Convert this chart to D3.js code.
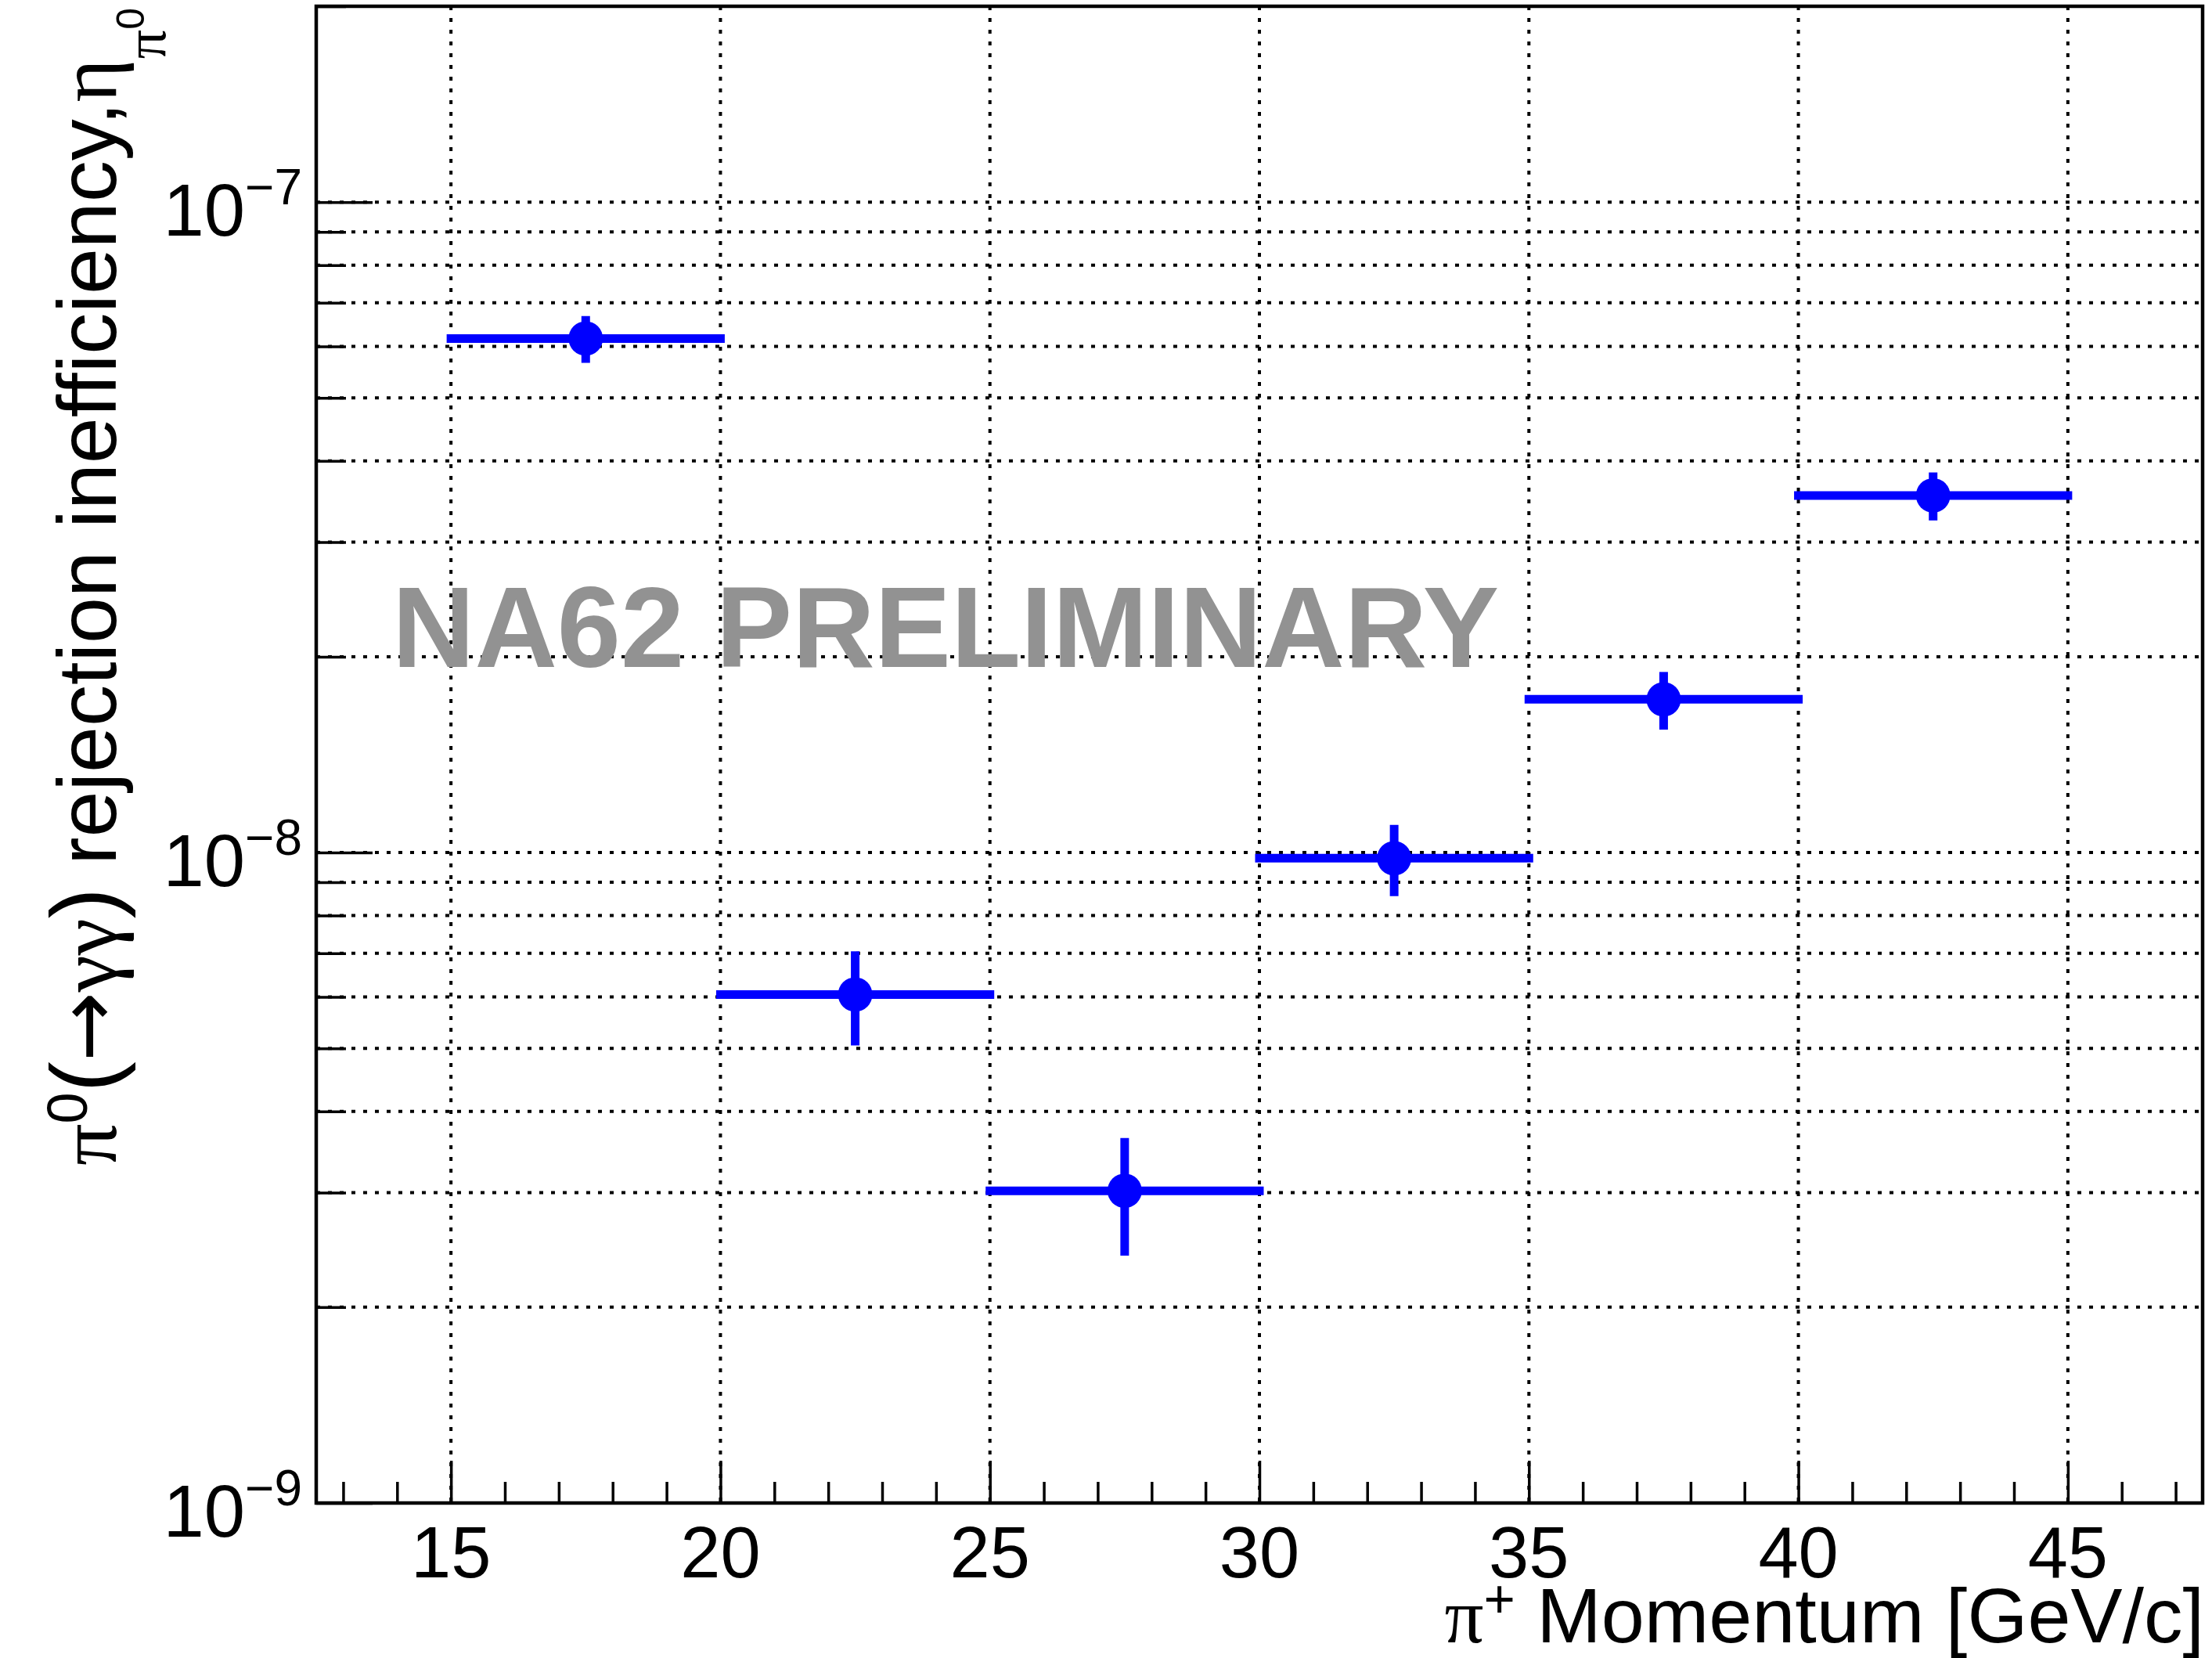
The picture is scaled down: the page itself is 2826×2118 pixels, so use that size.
<!DOCTYPE html>
<html><head><meta charset="utf-8">
<script src="https://cdn.jsdelivr.net/npm/d3@7"></script>
<style>html,body{margin:0;padding:0;background:#fff}svg{display:block}</style>
</head><body>
<script>
// ---- data ----
const binLow  = [15, 20, 25, 30, 35, 40];
const binHigh = [20, 25, 30, 35, 40, 45];
const values  = [6.17e-8, 6.05e-9, 3.02e-9, 9.8e-9, 1.72e-8, 3.54e-8];
const errors  = [0.51e-8, 1.0e-9, 0.62e-9, 1.23e-9, 0.175e-8, 0.30e-8];
const xMajorTicks = [15, 20, 25, 30, 35, 40, 45];
const xTickLabels = ["15", "20", "25", "30", "35", "40", "45"];
const yMajorTicks = [1e-9, 1e-8, 1e-7];
const yTickBase = "10";
const yTickExponents = ["\u22129", "\u22128", "\u22127"];
const xDomain = [12.5, 47.5];
const yDomain = [1e-9, 2e-7];
const watermark = "NA62 PRELIMINARY";

// ---- layout ----
const W = 2826, H = 2118;
const M = {left: 404, right: 2814, top: 8, bottom: 1920};
const SANS = "'Liberation Sans', Arial, Helvetica, sans-serif";
const SERIF = "'Liberation Serif', 'DejaVu Serif', serif";
const BLUE = "#0000ff";

const svg = d3.select("body").append("svg").attr("width", W).attr("height", H);
svg.append("rect").attr("width", W).attr("height", H).attr("fill", "#fff");

const x = d3.scaleLinear().domain(xDomain).range([M.left, M.right]);
const y = d3.scaleLog().domain(yDomain).range([M.bottom, M.top]);

const yAll = y.ticks();
const yMinor = yAll.filter(t => !yMajorTicks.some(m => Math.abs(m - t) / m < 1e-6));
const xAll = x.ticks(35);
const xMinor = xAll.filter(t => !xMajorTicks.includes(t));

// ---- grid ----
const grid = svg.append("g").attr("stroke", "#000").attr("stroke-width", 4)
  .attr("stroke-dasharray", "5,10").attr("fill", "none");
grid.selectAll("line.h").data(yAll).join("line").attr("class", "h")
  .attr("x1", M.left).attr("x2", M.right)
  .attr("y1", d => y(d)).attr("y2", d => y(d));
grid.selectAll("line.v").data(xMajorTicks).join("line").attr("class", "v")
  .attr("y1", M.top).attr("y2", M.bottom)
  .attr("x1", d => x(d)).attr("x2", d => x(d));

// ---- watermark ----
svg.append("text").attr("x", 501).attr("y", 852)
  .attr("font-family", SANS).attr("font-weight", "bold").attr("font-size", 147)
  .attr("fill", "#929292").attr("textLength", 1414).attr("lengthAdjust", "spacingAndGlyphs")
  .text(watermark);

// ---- ticks ----
function styleAxis(g) {
  g.select(".domain").remove();
  g.selectAll(".tick line").attr("stroke", "#000").attr("stroke-width", 3.5);
  g.selectAll(".tick text").remove();
}
svg.append("g").attr("transform", `translate(0,${M.bottom})`)
  .call(d3.axisTop(x).tickValues(xMinor).tickSize(27).tickFormat("")).call(styleAxis);
svg.append("g").attr("transform", `translate(0,${M.bottom})`)
  .call(d3.axisTop(x).tickValues(xMajorTicks).tickSize(54).tickFormat("")).call(styleAxis);
svg.append("g").attr("transform", `translate(${M.left},0)`)
  .call(d3.axisRight(y).tickValues(yMinor).tickSize(38).tickFormat("")).call(styleAxis);
svg.append("g").attr("transform", `translate(${M.left},0)`)
  .call(d3.axisRight(y).tickValues(yMajorTicks).tickSize(72).tickFormat("")).call(styleAxis);

// ---- tick labels ----
svg.append("g").selectAll("text").data(xMajorTicks).join("text")
  .attr("x", d => x(d)).attr("y", 2015)
  .attr("text-anchor", "middle").attr("font-family", SANS).attr("font-size", 92)
  .text((d, i) => xTickLabels[i]);

const yl = svg.append("g").selectAll("text").data(yMajorTicks).join("text")
  .attr("x", 386).attr("y", d => y(d) + 43)
  .attr("text-anchor", "end").attr("font-family", SANS).attr("font-size", 94);
yl.append("tspan").text(yTickBase);
yl.append("tspan").attr("font-size", 64).attr("dy", -40).text((d, i) => yTickExponents[i]);

// ---- data ----
const pts = values.map((v, i) => ({lo: binLow[i], hi: binHigh[i], v, e: errors[i]}));
const dg = svg.append("g");
dg.selectAll("line.xe").data(pts).join("line").attr("class", "xe")
  .attr("x1", d => x(d.lo)).attr("x2", d => x(d.hi))
  .attr("y1", d => y(d.v)).attr("y2", d => y(d.v))
  .attr("stroke", BLUE).attr("stroke-width", 11).attr("stroke-linecap", "square");
dg.selectAll("line.ye").data(pts).join("line").attr("class", "ye")
  .attr("x1", d => x((d.lo + d.hi) / 2)).attr("x2", d => x((d.lo + d.hi) / 2))
  .attr("y1", d => y(d.v - d.e)).attr("y2", d => y(d.v + d.e))
  .attr("stroke", BLUE).attr("stroke-width", 11);
dg.selectAll("circle").data(pts).join("circle")
  .attr("cx", d => x((d.lo + d.hi) / 2)).attr("cy", d => y(d.v)).attr("r", 22)
  .attr("fill", BLUE);

// ---- frame ----
svg.append("rect").attr("x", M.left).attr("y", M.top)
  .attr("width", M.right - M.left).attr("height", M.bottom - M.top)
  .attr("fill", "none").attr("stroke", "#000").attr("stroke-width", 4.5);

// ---- axis titles ----
const xt = svg.append("text").attr("x", 2816).attr("y", 2098)
  .attr("text-anchor", "end").attr("font-family", SANS).attr("font-size", 99);
xt.append("tspan").attr("font-family", SERIF).text("\u03c0");
xt.append("tspan").attr("font-size", 69).attr("dy", -32).text("+");
xt.append("tspan").attr("dy", 32).text(" Momentum [GeV/c]");

const yt = svg.append("text").attr("transform", "translate(148,10) rotate(-90)")
  .attr("text-anchor", "end").attr("font-family", SANS).attr("font-size", 106);
yt.append("tspan").attr("font-family", SERIF).text("\u03c0");
yt.append("tspan").attr("font-size", 72).attr("dy", -37).text("0");
yt.append("tspan").attr("dy", 37).attr("font-size", 118).text("(");
yt.append("tspan").attr("font-family", "'DejaVu Sans', sans-serif").text("\u2192");
yt.append("tspan").attr("font-family", SERIF).text("\u03b3\u03b3");
yt.append("tspan").attr("font-size", 118).text(")");
yt.append("tspan").text(" rejection inefficiency,");
yt.append("tspan").attr("font-family", SERIF).text("\u03b7");
yt.append("tspan").attr("font-family", SERIF).attr("font-size", 74).attr("dy", 63).text("\u03c0");
yt.append("tspan").attr("font-size", 50).attr("dy", -27).text("0");
</script>
</body></html>
